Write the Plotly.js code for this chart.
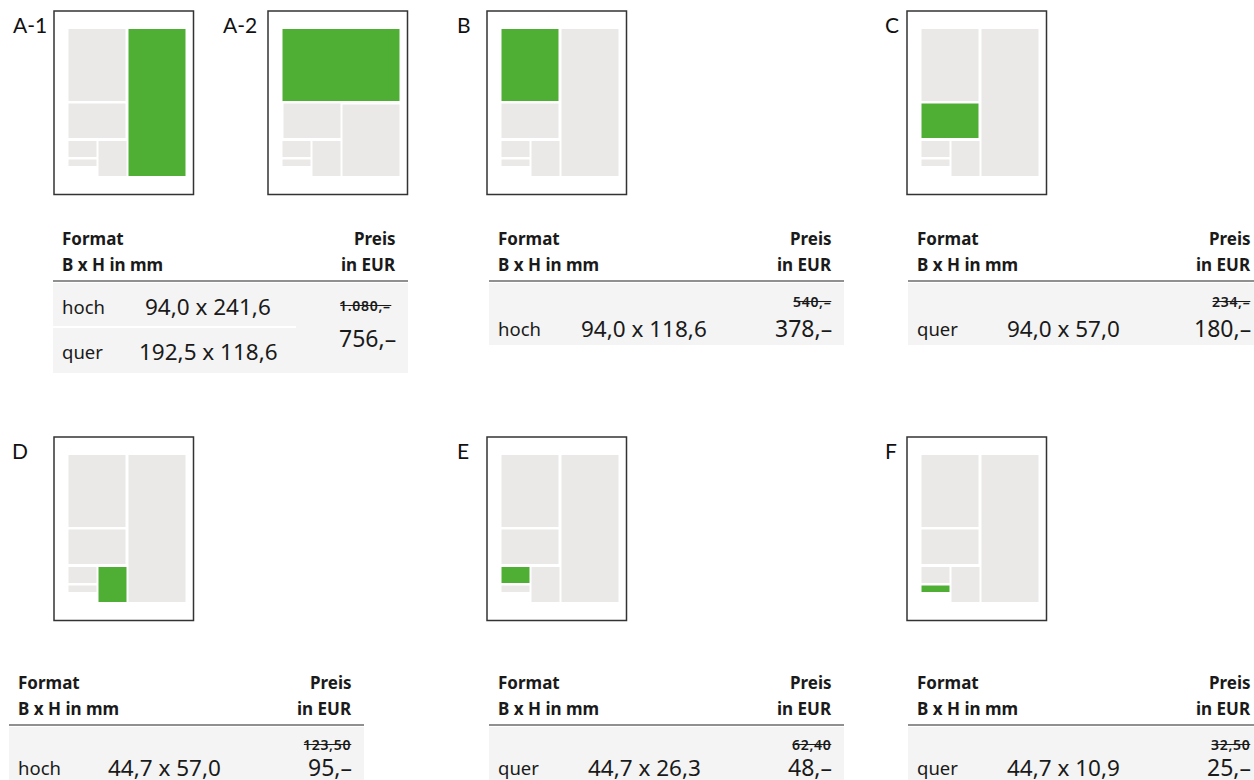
<!DOCTYPE html>
<html>
<head>
<meta charset="utf-8">
<script src="https://cdn.plot.ly/plotly-3.0.1.min.js"></script>
<style>html,body{margin:0;padding:0;background:#fff;}#chart{width:1254px;height:780px;}</style>
</head>
<body>
<div id="chart"></div>
<script>
// ---------- DATA ----------
const pageLabels   = ['A-1', 'A-2', 'B', 'C', 'D', 'E', 'F'];
const pageHighlight = ['R', 'T', 'TL', 'ML', 'S3', 'S1', 'S2'];   // highlighted ad cell
const tableIds     = ['A', 'B', 'C', 'D', 'E', 'F'];
const orientations = [['hoch', 'quer'], ['hoch'], ['quer'], ['hoch'], ['quer'], ['quer']];
const widthsMM     = [[94.0, 192.5], [94.0], [94.0], [44.7], [44.7], [44.7]];
const heightsMM    = [[241.6, 118.6], [118.6], [57.0], [57.0], [26.3], [10.9]];
const oldPrices    = [1080, 540, 234, 123.5, 62.4, 32.5];
const newPrices    = [756, 378, 180, 95, 48, 25];
const headerLeft   = ['Format', 'B x H in mm'];
const headerRight  = ['Preis', 'in EUR'];

// ---------- FORMATTING ----------
function fmtMM(v) { return v.toFixed(1).replace('.', ','); }
function fmtPrice(v) {
  if (Number.isInteger(v)) {
    return v.toString().replace(/\B(?=(\d{3})+(?!\d))/g, '.') + ',\u2013';
  }
  return v.toFixed(2).replace('.', ',');
}

// ---------- STYLE / LAYOUT ----------
const GREEN = '#4FAE34', GRAY = '#EAE9E7', TBG = '#F4F4F4', INK = '#1a1a1a';
const FONT = '"Noto Sans", "Open Sans", sans-serif';
const LFONT = 'Lato, "Noto Sans", sans-serif';

const pageX = [54, 268, 487, 907, 54, 487, 907];
const pageY = [11, 11, 11, 11, 437, 437, 437];
const labelX = [12, 222, 456, 884, 11, 456, 884];
const PW = 139.5, PH = 183.5;

const stdCells = {
  TL: [14.5, 71.5, 18, 90], ML: [14.5, 71.5, 92.5, 127],
  S1: [14.5, 42.5, 130, 146], S2: [14.5, 42.5, 148.5, 155],
  S3: [44.5, 72.5, 130, 165], R: [74.5, 131.5, 18, 165]
};
const a2Cells = {
  T: [14.5, 131.5, 18, 90], ML: [15.5, 72.5, 92.5, 127],
  S1: [14.5, 42.5, 130, 146], S2: [14.5, 42.5, 148.5, 155],
  S3: [44.5, 72.5, 130, 165], R: [74.5, 131.5, 93.5, 165]
};

const tableLeft = [53, 489, 908, 9, 489, 908];
const tableTop  = [281, 281, 281, 725, 725, 725]; // header rule y
const TW = 355;

const shapes = [];
const annotations = [];

function rect(x0, y0, x1, y1, fill, line) {
  shapes.push({type: 'rect', xref: 'x', yref: 'y', x0, y0, x1, y1,
    fillcolor: fill, line: line || {width: 0}, layer: 'above'});
}
function hline(x0, x1, y, color, w) {
  shapes.push({type: 'line', xref: 'x', yref: 'y', x0, x1, y0: y, y1: y,
    line: {color, width: w}, layer: 'above'});
}
function txt(x, y, text, size, anchor, opts) {
  opts = opts || {};
  annotations.push({x, y, xref: 'x', yref: 'y', text, showarrow: false,
    xanchor: anchor, yanchor: 'middle', borderpad: 0,
    font: {family: opts.family || FONT, size, color: opts.color || INK, weight: opts.weight || 400}});
}

const canvas = document.createElement('canvas');
const ctx = canvas.getContext('2d');
const LS = 0.7; // letter spacing of old prices
function measure(text, size, weight) {
  ctx.font = weight + ' ' + size + 'px "Noto Sans"';
  return ctx.measureText(text).width + LS * text.length;
}
function oldPrice(x, y, v) {
  const op = fmtPrice(v);
  txt(x, y, '<span style="letter-spacing:' + LS + 'px">' + op + '</span>', 14, 'right', {weight: 600});
  const w = measure(op, 14, 600);
  hline(x - w, x - LS, y + 0.5, INK, 1);
}

// pages
pageLabels.forEach((lab, i) => {
  const fx = pageX[i], fy = pageY[i];
  txt(labelX[i], fy + 13, lab, 21, 'left', {family: LFONT, weight: 400, color: '#111'});
  rect(fx, fy, fx + PW, fy + PH, '#ffffff', {color: '#333333', width: 1.5});
  const cells = lab === 'A-2' ? a2Cells : stdCells;
  Object.keys(cells).forEach(k => {
    const c = cells[k];
    rect(fx + c[0], fy + c[2], fx + c[1], fy + c[3], k === pageHighlight[i] ? GREEN : GRAY);
  });
});

// tables
tableIds.forEach((id, t) => {
  const L = tableLeft[t], Y = tableTop[t];
  txt(L + 8, Y - 43, '<b>' + headerLeft[0] + '</b>', 17, 'left');
  txt(L + 8, Y - 17, '<b>' + headerLeft[1] + '</b>', 17, 'left');
  txt(L + 344, Y - 43, '<b>' + headerRight[0] + '</b>', 17, 'right');
  txt(L + 344, Y - 17, '<b>' + headerRight[1] + '</b>', 17, 'right');
  const rows = orientations[t].length;
  if (rows === 2) {
    rect(L, Y + 2, L + TW, Y + 92, TBG);
    hline(L, L + 243, Y + 46, '#ffffff', 2);
    orientations[t].forEach((o, r) => {
      const yy = Y + 25 + r * 45;
      txt(L + 8, yy, o, 18.5, 'left');
      txt(L + 155, yy, fmtMM(widthsMM[t][r]) + ' x ' + fmtMM(heightsMM[t][r]), 22.5, 'center');
    });
    oldPrice(L + 339, Y + 24, oldPrices[t]);
    txt(L + 344, Y + 57, fmtPrice(newPrices[t]), 23, 'right');
  } else {
    rect(L, Y + 2, L + TW, Y + 64, TBG);
    const yy = Y + (t < 3 ? 47 : 42);
    const yo = Y + (t < 3 ? 20 : 19);
    txt(L + 8, yy, orientations[t][0], 18.5, 'left');
    txt(L + 155, yy, fmtMM(widthsMM[t][0]) + ' x ' + fmtMM(heightsMM[t][0]), 22.5, 'center');
    oldPrice(L + 343, yo, oldPrices[t]);
    txt(L + 344, yy, fmtPrice(newPrices[t]), 23, 'right');
  }
  hline(L, L + TW, Y, '#222222', 1.2);
});

const layout = {
  width: 1254, height: 780,
  margin: {l: 0, r: 0, t: 0, b: 0},
  paper_bgcolor: '#ffffff', plot_bgcolor: '#ffffff',
  xaxis: {range: [0, 1254], visible: false, fixedrange: true},
  yaxis: {range: [780, 0], visible: false, fixedrange: true},
  showlegend: false,
  shapes, annotations
};
Plotly.newPlot('chart', [{x: [], y: [], type: 'scatter', hoverinfo: 'skip'}], layout,
  {displayModeBar: false, staticPlot: true});
</script>
</body>
</html>
